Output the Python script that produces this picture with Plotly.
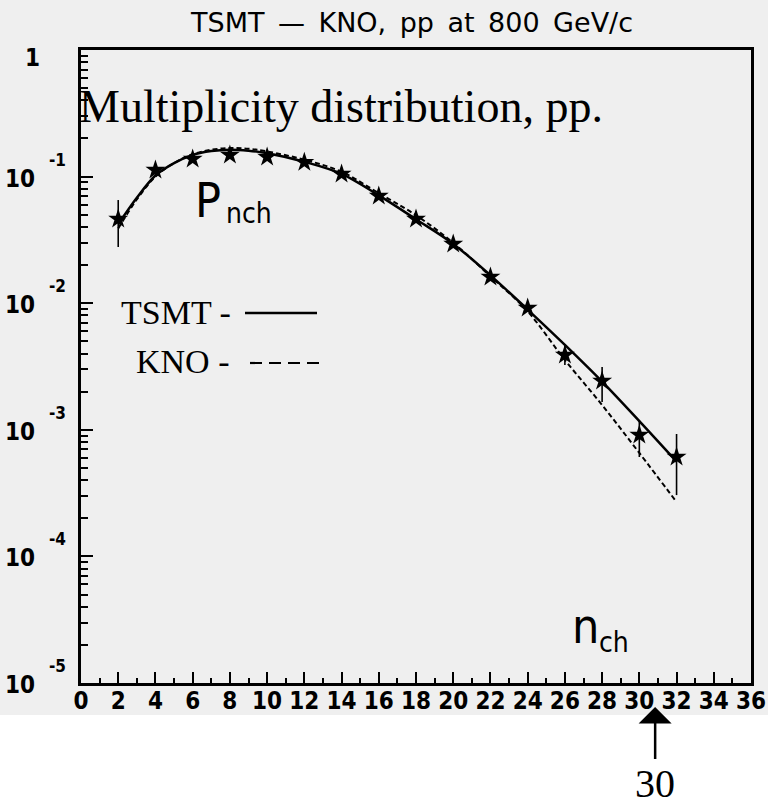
import math
import plotly.graph_objects as go

# ---------------- data ----------------
nch = [2, 4, 6, 8, 10, 12, 14, 16, 18, 20, 22, 24, 26, 28, 30, 32]
p_data = [0.0462, 0.1127, 0.1377, 0.148, 0.143, 0.130, 0.105, 0.0703,
          0.0462, 0.0294, 0.0161, 0.00916, 0.0039, 0.00243, 0.00091, 0.00061]
p_hi = [0.0653, 0.1127, 0.1377, 0.148, 0.143, 0.130, 0.105, 0.0703,
        0.0462, 0.0294, 0.0161, 0.00916, 0.00468, 0.00313, 0.00119, 0.000927]
p_lo = [0.0278, 0.1127, 0.1377, 0.148, 0.143, 0.130, 0.105, 0.0703,
        0.0462, 0.0294, 0.0161, 0.00916, 0.00325, 0.00166, 0.00061, 0.000305]

curve_x = [2, 3, 4, 5, 6, 7, 8, 9, 10, 12, 14, 16, 18, 20, 22, 24, 26, 28, 30, 32]
tsmt = [0.042, 0.068, 0.102, 0.128, 0.148, 0.159, 0.163, 0.160, 0.153, 0.131,
        0.105, 0.071, 0.046, 0.0294, 0.0166, 0.00891, 0.00468, 0.0024, 0.00117, 0.00056]
kno = [0.039, 0.066, 0.100, 0.128, 0.150, 0.163, 0.168, 0.166, 0.158, 0.136,
       0.109, 0.074, 0.0495, 0.0300, 0.0163, 0.0086, 0.00356, 0.00157, 0.000656, 0.000269]

x_ticks = list(range(0, 37, 2))
y_tick_vals = [1, 1e-1, 1e-2, 1e-3, 1e-4, 1e-5]
y_tick_base = ["1", "10", "10", "10", "10", "10"]
y_tick_exp = ["", "-1", "-2", "-3", "-4", "-5"]

title_text = "TSMT\u2002\u2014\u2002KNO,\u2002pp\u2002at\u2002800\u2002GeV/c"

# ---------------- layout geometry ----------------
W, H = 768, 807
L, R, T, B = 81, 751, 50, 683
PW, PH = R - L, B - T


def px(xp, yp):
    return (xp - L) / PW, (B - yp) / PH


NARROW = "Liberation Sans Narrow, DejaVu Sans Condensed, Liberation Sans, Arial, sans-serif"
SERIF = "Liberation Serif, Times New Roman, serif"
SANS = "DejaVu Sans, Verdana, sans-serif"

fig = go.Figure()

fig.add_trace(go.Scatter(
    x=curve_x, y=kno, mode="lines", line=dict(color="black", width=2, dash="5px,3px", shape="spline"),
    showlegend=False, hoverinfo="skip"))
fig.add_trace(go.Scatter(
    x=curve_x, y=tsmt, mode="lines", line=dict(color="black", width=2.5, shape="spline"),
    showlegend=False, hoverinfo="skip"))
fig.add_trace(go.Scatter(
    x=nch, y=p_data, mode="markers",
    marker=dict(symbol="star", size=15, color="black"),
    error_y=dict(type="data", symmetric=False,
                 array=[h - v for h, v in zip(p_hi, p_data)],
                 arrayminus=[v - l for v, l in zip(p_data, p_lo)],
                 width=0, thickness=1.6, color="black"),
    showlegend=False))

annotations = []


def add_text(text, xp, yp, size, family, anchor="left", weight="normal"):
    xx, yy = px(xp, yp)
    annotations.append(dict(text=text, x=xx, y=yy, xref="paper", yref="paper",
                            xanchor=anchor, yanchor="middle", showarrow=False,
                            font=dict(size=size, family=family, color="black", weight=weight)))


add_text(title_text, 411, 22, 27, SANS, anchor="center")
add_text("Multiplicity distribution, pp.", 77, 106, 46, SERIF)
add_text("P", 193, 200, 48, NARROW)
add_text("nch", 224, 213, 28, NARROW)
add_text("n", 570, 626, 48, NARROW)
add_text("ch", 597, 642, 28, NARROW)
add_text("TSMT -", 119, 312, 34, SERIF)
add_text("KNO -", 134, 361, 34, SERIF)

# y tick labels (10 with exponent)
for v, b, e in zip(y_tick_vals, y_tick_base, y_tick_exp):
    lv = math.log10(v)
    if e == "":
        annotations.append(dict(text=b, x=0, y=lv, xref="paper", yref="y", xanchor="right",
                                yanchor="middle", xshift=-39, yshift=-8, showarrow=False,
                                font=dict(size=24, family=NARROW, color="black", weight="bold")))
    else:
        annotations.append(dict(text=b, x=0, y=lv, xref="paper", yref="y", xanchor="right",
                                yanchor="middle", xshift=-44, yshift=-2, showarrow=False,
                                font=dict(size=24, family=NARROW, color="black", weight="bold")))
        annotations.append(dict(text=e, x=0, y=lv, xref="paper", yref="y", xanchor="left",
                                yanchor="middle", xshift=-34, yshift=17, showarrow=False,
                                font=dict(size=17, family=NARROW, color="black", weight="bold")))

# arrow marking 30
annotations.append(dict(text="30", x=30.85, xref="x", y=px(0, 707)[1], yref="paper",
                        showarrow=True, ax=0, ay=76, arrowhead=1, arrowsize=2.2, arrowwidth=2.5,
                        arrowcolor="black", font=dict(size=40, family=SERIF, color="black")))

shapes = []
x0, y0 = px(0, 0)
x1, y1 = px(W, 715)
shapes.append(dict(type="rect", xref="paper", yref="paper", x0=x0, x1=x1, y0=y1, y1=y0,
                   fillcolor="#efefef", line=dict(width=0), layer="below"))
a0, ly = px(245, 313)
a1, _ = px(317, 313)
shapes.append(dict(type="line", xref="paper", yref="paper", x0=a0, x1=a1, y0=ly, y1=ly,
                   line=dict(color="black", width=2.5)))
b0, ly2 = px(250, 363)
b1, _ = px(322, 363)
shapes.append(dict(type="line", xref="paper", yref="paper", x0=b0, x1=b1, y0=ly2, y1=ly2,
                   line=dict(color="black", width=2.2, dash="12px,7px")))

fig.update_layout(
    width=W, height=H, autosize=False,
    margin=dict(l=L, r=W - R, t=T, b=H - B, pad=0, autoexpand=False),
    paper_bgcolor="white", plot_bgcolor="#efefef",
    annotations=annotations, shapes=shapes,
    showlegend=False,
)
fig.update_xaxes(range=[0, 36], tickvals=x_ticks, ticks="inside", ticklen=11, tickwidth=2,
                 tickcolor="black", showline=True, linewidth=3, linecolor="black", mirror=True,
                 showgrid=False, zeroline=False, automargin=False,
                 minor=dict(dtick=1, ticks="inside", ticklen=5, tickwidth=1.5, tickcolor="black", showgrid=False),
                 tickfont=dict(size=24, family=NARROW, color="black", weight="bold"),
                 ticklabelstandoff=-6)
fig.update_yaxes(type="log", range=[-5, 0], dtick=1, ticks="inside", ticklen=12, tickwidth=2,
                 tickcolor="black", showline=True, linewidth=3, linecolor="black", mirror=True,
                 showgrid=False, zeroline=False, showticklabels=False, automargin=False,
                 minor=dict(ticks="inside", ticklen=7, tickwidth=1.5, tickcolor="black", showgrid=False))

fig.write_html("out.html", config={"responsive": False})
